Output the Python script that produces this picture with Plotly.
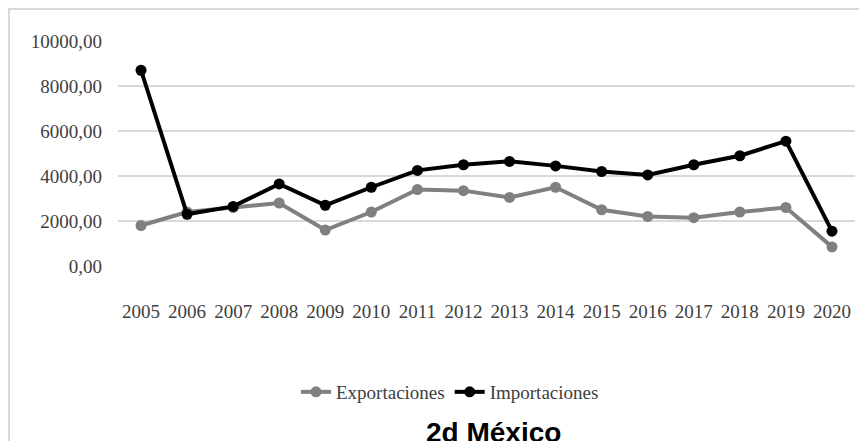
import plotly.graph_objects as go

years = [str(y) for y in range(2005, 2021)]
exportaciones = [1800, 2400, 2600, 2800, 1600, 2400, 3400, 3350, 3050, 3500, 2500, 2200, 2150, 2400, 2600, 850]
importaciones = [8700, 2300, 2650, 3650, 2700, 3500, 4250, 4500, 4650, 4450, 4200, 4050, 4500, 4900, 5550, 1550]
y_ticks = [0, 2000, 4000, 6000, 8000, 10000]

# page body has an 8px margin; work in figure pixels = screen pixels - 8
OFF = 8
W, H = 867 - OFF, 441 - OFF
L, R, T, B = 118 - OFF, 855 - OFF, 41 - OFF, 266 - OFF
pw, ph = R - L, B - T

def px_x(p):
    return (p - OFF - L) / pw

def px_y(p):
    return (B - (p - OFF)) / ph

font_fam = "Liberation Serif"
txt_col = "#404040"

fig = go.Figure()
fig.add_trace(go.Scatter(
    x=years, y=exportaciones, name="Exportaciones", mode="lines+markers",
    line=dict(color="#808080", width=4),
    marker=dict(symbol="circle", size=11, color="#808080"),
))
fig.add_trace(go.Scatter(
    x=years, y=importaciones, name="Importaciones", mode="lines+markers",
    line=dict(color="#000000", width=4),
    marker=dict(symbol="circle", size=11, color="#000000"),
))

fig.update_layout(
    width=W, height=H,
    margin=dict(l=L, r=W - R, t=T, b=H - B, pad=0),
    paper_bgcolor="white", plot_bgcolor="white",
    separators=",.",
    font=dict(family=font_fam, size=19, color=txt_col),
    showlegend=True,
    legend=dict(orientation="h", x=px_x(450), xanchor="center",
                y=px_y(392), yanchor="middle",
                font=dict(family=font_fam, size=19, color=txt_col),
                itemwidth=30, bgcolor="rgba(0,0,0,0)"),
    xaxis=dict(type="category", range=[-0.5, 15.5], showgrid=False, showline=False,
               ticks="", zeroline=False, ticklabelstandoff=32,
               tickfont=dict(family=font_fam, size=19, color=txt_col)),
    yaxis=dict(range=[0, 10000], tickvals=y_ticks, tickformat=".2f",
               showgrid=True, gridcolor="#d9d9d9", gridwidth=2,
               zeroline=False, showline=False, ticks="", ticklabelstandoff=15,
               tickfont=dict(family=font_fam, size=19, color=txt_col)),
    shapes=[dict(type="rect", xref="paper", yref="paper",
                 x0=px_x(9), x1=px_x(870), y0=px_y(460), y1=px_y(9),
                 line=dict(color="#d9d9d9", width=2), layer="below")],
    annotations=[dict(text="<b>2d México</b>", xref="paper", yref="paper",
                      x=px_x(424), y=px_y(415), xanchor="left", yanchor="top",
                      showarrow=False,
                      font=dict(family="Liberation Sans", size=28, color="#000000"))],
)

fig.write_html("out.html")
